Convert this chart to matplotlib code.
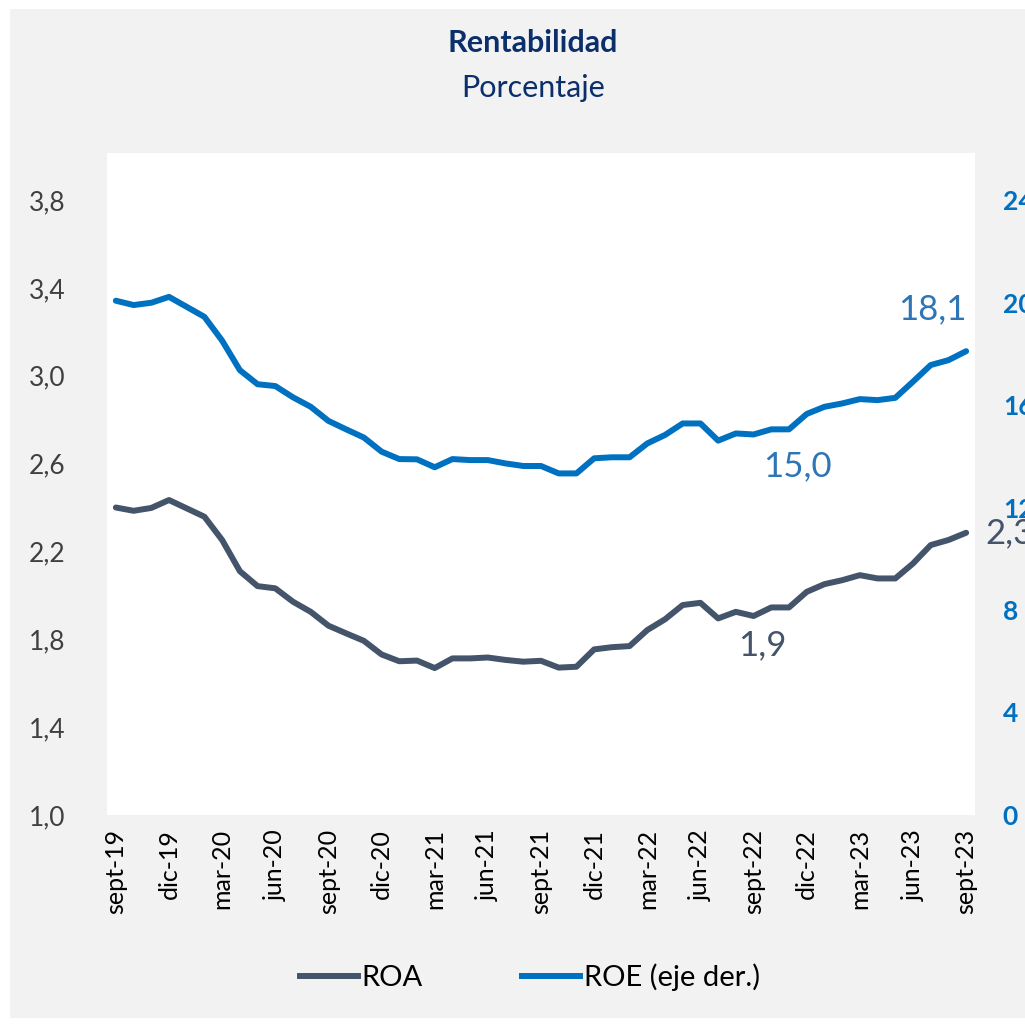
import matplotlib
matplotlib.use("Agg")
import matplotlib.pyplot as plt
from matplotlib.patches import Rectangle
from matplotlib.lines import Line2D

plt.rcParams["font.family"] = ["Lato", "DejaVu Sans"]

# monthly series, sept-19 .. sept-23
months = ["sept", "oct", "nov", "dic", "ene", "feb", "mar", "abr", "may", "jun", "jul", "ago"]
dates = [f"{months[(i) % 12]}-{19 + (i + 8) // 12}" for i in range(49)]

roa = [2.40, 2.385, 2.398, 2.434, 2.396, 2.358, 2.252, 2.110, 2.042, 2.032, 1.971, 1.925,
       1.862, 1.827, 1.793, 1.731, 1.700, 1.703, 1.669, 1.713, 1.713, 1.717, 1.706, 1.698,
       1.702, 1.671, 1.675, 1.754, 1.764, 1.769, 1.842, 1.891, 1.956, 1.966, 1.895, 1.925,
       1.906, 1.945, 1.945, 2.016, 2.051, 2.069, 2.092, 2.077, 2.077, 2.145, 2.229, 2.252,
       2.285]
roe = [20.07, 19.90, 19.99, 20.22, 19.83, 19.44, 18.51, 17.36, 16.81, 16.74, 16.30, 15.93,
       15.38, 15.05, 14.73, 14.18, 13.89, 13.88, 13.57, 13.89, 13.85, 13.85, 13.72, 13.62,
       13.62, 13.33, 13.33, 13.92, 13.96, 13.96, 14.50, 14.83, 15.28, 15.28, 14.61, 14.89,
       14.85, 15.05, 15.05, 15.65, 15.93, 16.06, 16.23, 16.19, 16.28, 16.91, 17.56, 17.75,
       18.10]

left_ticks = [1.0, 1.4, 1.8, 2.2, 2.6, 3.0, 3.4, 3.8]
right_ticks = [0, 4, 8, 12, 16, 20, 24]

ROA_COLOR = "#44546A"
ROE_COLOR = "#0070C0"
W, H = 1025, 1024

fig = plt.figure(figsize=(W / 100, H / 100), dpi=100)
fig.patch.set_facecolor("white")
fig.patches.append(Rectangle((10 / W, 1 - 1018 / H), 1 - 10 / W, (1018 - 9) / H,
                             transform=fig.transFigure, facecolor="#F2F2F2",
                             edgecolor="none", zorder=-5))

# plot area: x 107..975, y 153..815 (px)
ax = fig.add_axes([107 / W, 1 - 815 / H, 868 / W, 662 / H])
ax.set_facecolor("white")
ax2 = ax.twinx()

x = list(range(len(dates)))
ax.plot(x, roa, color=ROA_COLOR, lw=4.3, solid_joinstyle="round", solid_capstyle="round")
ax2.plot(x, roe, color=ROE_COLOR, lw=4.3, solid_joinstyle="round", solid_capstyle="round")

ax.set_xlim(-0.5, len(dates) - 0.5)
ax.set_ylim(1.0, 1.0 + 2.8 * 662 / 615)
ax2.set_ylim(0, 24 * 662 / 615)

ax.set_yticks(left_ticks)
ax.set_yticklabels([f"{v:.1f}".replace(".", ",") for v in left_ticks])
ax2.set_yticks(right_ticks)
ax2.set_yticklabels([str(v) for v in right_ticks])

ax.set_xticks(x[::3])
ax.set_xticklabels(dates[::3], rotation=90)

for a in (ax, ax2):
    for s in a.spines.values():
        s.set_visible(False)
ax.tick_params(axis="y", length=0, pad=30, labelsize=19, labelcolor="#404040")
ax.tick_params(axis="x", length=0, pad=10, labelsize=18, labelcolor="black")
ax2.tick_params(axis="y", length=0, pad=20, labelsize=19, labelcolor=ROE_COLOR)
for t in ax2.get_yticklabels():
    t.set_fontweight("bold")

# data labels
ax2.text(48, roe[-1] + 1.0, "18,1", color="#2E75B6", fontsize=25, ha="right", va="bottom")
ax2.text(38.5, roe[36] - 0.6, "15,0", color="#2E75B6", fontsize=25, ha="center", va="top")
ax.text(36.5, roa[36] - 0.06, "1,9", color=ROA_COLOR, fontsize=25, ha="center", va="top")
ax.text(49.1, roa[-1], "2,3", color=ROA_COLOR, fontsize=25, ha="left", va="center",
        clip_on=False)

fig.text(0.52, 1 - 43 / H, "Rentabilidad", ha="center", va="center", fontsize=22,
         fontweight="bold", color="#0B2F6B")
fig.text(0.52, 1 - 88 / H, "Porcentaje", ha="center", va="center", fontsize=22,
         color="#0B2F6B")

handles = [Line2D([], [], color=ROA_COLOR, lw=4.3),
           Line2D([], [], color=ROE_COLOR, lw=4.3)]
fig.legend(handles, ["ROA", "ROE (eje der.)"], loc="center",
           bbox_to_anchor=(530 / W, 1 - 977 / H), ncol=2, frameon=False,
           fontsize=21, handlelength=2.0, handletextpad=0.12, columnspacing=3.4)

fig.savefig("out.png", dpi=100, facecolor=fig.get_facecolor())
